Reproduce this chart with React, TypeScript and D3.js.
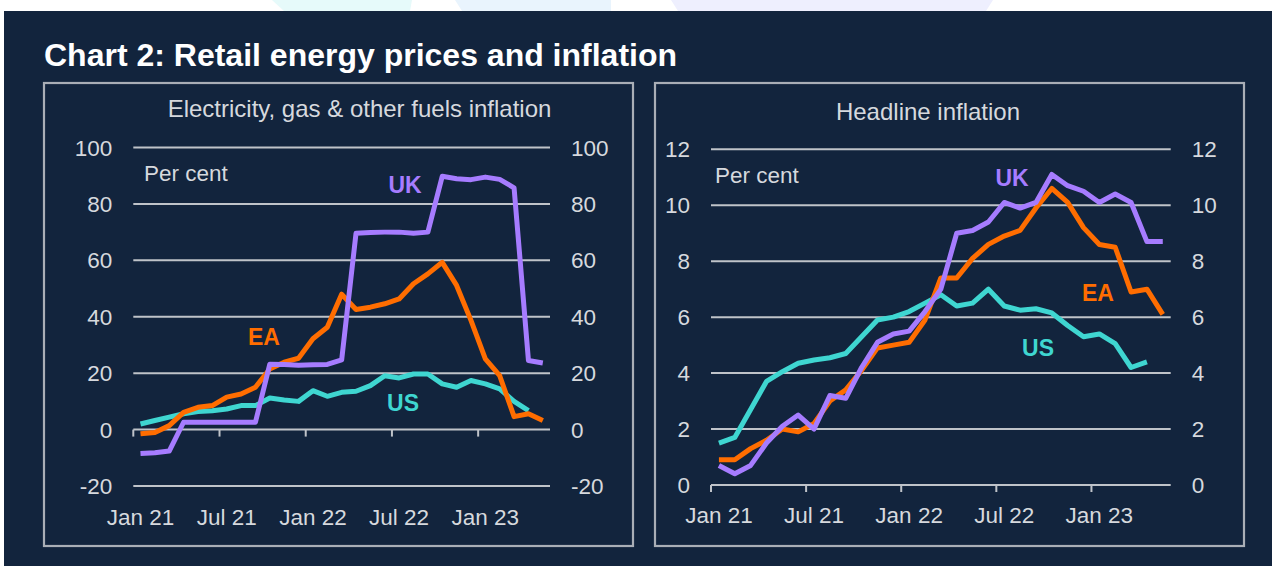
import React, { useEffect, useRef } from 'react';
import * as d3 from 'd3';

const MONTHS = [
  'Jan 21', 'Feb 21', 'Mar 21', 'Apr 21', 'May 21', 'Jun 21', 'Jul 21', 'Aug 21', 'Sep 21', 'Oct 21', 'Nov 21', 'Dec 21',
  'Jan 22', 'Feb 22', 'Mar 22', 'Apr 22', 'May 22', 'Jun 22', 'Jul 22', 'Aug 22', 'Sep 22', 'Oct 22', 'Nov 22', 'Dec 22',
  'Jan 23', 'Feb 23', 'Mar 23', 'Apr 23', 'May 23',
];
const X_TICK_LABELS = ['Jan 21', 'Jul 21', 'Jan 22', 'Jul 22', 'Jan 23'];

// Electricity, gas & other fuels inflation (per cent)
const ENERGY_UK = [-8.5, -8.2, -7.6, 2.6, 2.6, 2.6, 2.6, 2.6, 2.6, 23.2, 23.1, 22.8, 23.0, 23.1, 24.7, 69.6, 69.9, 70.0, 70.0, 69.6, 70.0, 89.8, 88.9, 88.6, 89.5, 88.7, 85.7, 24.5, 23.6];
const ENERGY_EA = [-1.5, -1.0, 1.4, 6.1, 7.9, 8.5, 11.5, 12.6, 15.0, 21.5, 23.9, 25.3, 32.2, 36.3, 48.0, 42.6, 43.4, 44.6, 46.3, 51.7, 55.2, 59.3, 51.1, 38.7, 25.1, 19.1, 4.6, 5.6, 3.2];
const ENERGY_US = [2.0, 3.2, 4.4, 5.6, 6.4, 6.7, 7.3, 8.5, 8.5, 11.2, 10.5, 10.0, 13.8, 11.8, 13.2, 13.6, 15.6, 19.1, 18.3, 19.7, 19.7, 16.2, 15.0, 17.4, 16.2, 14.4, 10.0, 6.7, null];
const ENERGY_TICKS = [-20, 0, 20, 40, 60, 80, 100];

// Headline inflation (per cent)
const HEADLINE_UK = [0.7, 0.4, 0.7, 1.5, 2.1, 2.5, 2.0, 3.2, 3.1, 4.2, 5.1, 5.4, 5.5, 6.2, 7.0, 9.0, 9.1, 9.4, 10.1, 9.9, 10.1, 11.1, 10.7, 10.5, 10.1, 10.4, 10.1, 8.7, 8.7];
const HEADLINE_EA = [0.9, 0.9, 1.3, 1.6, 2.0, 1.9, 2.2, 3.0, 3.4, 4.1, 4.9, 5.0, 5.1, 5.9, 7.4, 7.4, 8.1, 8.6, 8.9, 9.1, 9.9, 10.6, 10.1, 9.2, 8.6, 8.5, 6.9, 7.0, 6.1];
const HEADLINE_US = [1.5, 1.7, 2.7, 3.7, 4.05, 4.35, 4.47, 4.55, 4.7, 5.3, 5.9, 6.0, 6.2, 6.5, 6.8, 6.4, 6.5, 7.0, 6.4, 6.25, 6.3, 6.15, 5.7, 5.3, 5.4, 5.05, 4.2, 4.4, null];
const HEADLINE_TICKS = [0, 2, 4, 6, 8, 10, 12];

const COLORS: Record<string, string> = { UK: '#a67cff', EA: '#ff6d00', US: '#3fd6d1' };
const BG = '#12243d';
const GRID = '#bfc3c9';
const TEXT = '#d6d9de';
const FONT = '"Liberation Sans", Arial, sans-serif';

const panels = [
  {
    box: [44, 83, 589, 463],
    plot: { x0: 133.3, x1: 550, top: 147.5, bottom: 486 },
    domain: [-20, 100],
    ticks: ENERGY_TICKS,
    title: 'Electricity, gas & other fuels inflation',
    titlePos: [359.5, 117],
    perCentPos: [144, 181],
    labelY: 525,
    series: [
      { name: 'US', values: ENERGY_US, label: [403, 403] },
      { name: 'EA', values: ENERGY_EA, label: [264, 337] },
      { name: 'UK', values: ENERGY_UK, label: [405, 185] },
    ],
  },
  {
    box: [655, 83, 589, 463],
    plot: { x0: 711, x1: 1170.7, top: 149.3, bottom: 485 },
    domain: [0, 12],
    ticks: HEADLINE_TICKS,
    title: 'Headline inflation',
    titlePos: [928, 120],
    perCentPos: [715, 183],
    labelY: 523,
    series: [
      { name: 'US', values: HEADLINE_US, label: [1038, 348] },
      { name: 'EA', values: HEADLINE_EA, label: [1098, 293] },
      { name: 'UK', values: HEADLINE_UK, label: [1012, 178] },
    ],
  },
];

const App = () => {
  const svgRef = useRef<SVGSVGElement>(null);

  useEffect(() => {
    const svg = d3.select(svgRef.current);
    svg.selectAll('*').remove();

    // faint shapes in the white strip at the top
    const deco = [
      { pts: [[272, 0], [412, 0], [410, 11], [284, 11]], fill: '#e6fafa' },
      { pts: [[455, 0], [611, 0], [611, 11], [462, 11]], fill: '#e9f4fd' },
      { pts: [[671, 0], [993, 0], [986, 11], [678, 11]], fill: '#eeeffe' },
    ];
    deco.forEach(d => {
      svg.append('polygon').attr('points', d.pts.map(p => p.join(',')).join(' ')).attr('fill', d.fill);
    });

    svg.append('rect').attr('x', 4).attr('y', 11).attr('width', 1268).attr('height', 555).attr('fill', BG);

    svg.append('text')
      .attr('x', 44).attr('y', 66)
      .attr('fill', '#ffffff')
      .style('font-family', FONT).style('font-size', '32px').style('font-weight', 'bold')
      .text('Chart 2: Retail energy prices and inflation');

    panels.forEach(p => {
      const g = svg.append('g');
      const [bx, by, bw, bh] = p.box;
      g.append('rect')
        .attr('x', bx).attr('y', by).attr('width', bw).attr('height', bh)
        .attr('fill', 'none').attr('stroke', '#a9aeb6').attr('stroke-width', 2.2);

      const x = d3.scaleBand<string>().domain(MONTHS).range([p.plot.x0, p.plot.x1]).padding(0);
      const y = d3.scaleLinear().domain(p.domain).range([p.plot.bottom, p.plot.top]);
      const half = x.bandwidth() / 2;

      // gridlines
      g.selectAll(null).data(p.ticks).enter().append('line')
        .attr('x1', p.plot.x0).attr('x2', p.plot.x1)
        .attr('y1', d => y(d)).attr('y2', d => y(d))
        .attr('stroke', GRID).attr('stroke-width', 2);

      const tickText = (sel: any) => sel
        .attr('fill', TEXT).style('font-family', FONT).style('font-size', '22.5px');

      g.selectAll(null).data(p.ticks).enter().append('text')
        .attr('x', p.plot.x0 - 21).attr('y', d => y(d)).attr('dy', '0.36em')
        .attr('text-anchor', 'end').text(d => String(d)).call(tickText);
      g.selectAll(null).data(p.ticks).enter().append('text')
        .attr('x', p.plot.x1 + 21).attr('y', d => y(d)).attr('dy', '0.36em')
        .attr('text-anchor', 'start').text(d => String(d)).call(tickText);

      // x axis ticks sit on the zero line
      const y0 = y(0);
      g.selectAll(null).data(X_TICK_LABELS).enter().append('line')
        .attr('x1', d => x(d)!).attr('x2', d => x(d)!)
        .attr('y1', y0).attr('y2', y0 + 7)
        .attr('stroke', GRID).attr('stroke-width', 2);
      g.selectAll(null).data(X_TICK_LABELS).enter().append('text')
        .attr('x', d => x(d)! + half).attr('y', p.labelY)
        .attr('text-anchor', 'middle').text(d => d).call(tickText);

      g.append('text')
        .attr('x', p.titlePos[0]).attr('y', p.titlePos[1])
        .attr('text-anchor', 'middle').text(p.title)
        .attr('fill', TEXT).style('font-family', FONT).style('font-size', '24px');
      g.append('text')
        .attr('x', p.perCentPos[0]).attr('y', p.perCentPos[1])
        .text('Per cent').call(tickText);

      const line = d3.line<number | null>()
        .defined(v => v != null)
        .x((_, i) => x(MONTHS[i])! + half)
        .y(v => y(v as number));

      p.series.forEach(s => {
        g.append('path')
          .attr('d', line(s.values))
          .attr('fill', 'none')
          .attr('stroke', COLORS[s.name])
          .attr('stroke-width', 5)
          .attr('stroke-linejoin', 'round')
          .attr('stroke-linecap', 'butt');
      });

      p.series.forEach(s => {
        g.append('text')
          .attr('x', s.label[0]).attr('y', s.label[1]).attr('dy', '0.36em')
          .attr('text-anchor', 'middle')
          .attr('fill', COLORS[s.name])
          .style('font-family', FONT).style('font-size', '23px').style('font-weight', 'bold')
          .text(s.name);
      });
    });
  }, []);

  return (
    <svg ref={svgRef} width={1275} height={566}
      style={{ position: 'absolute', left: 0, top: 0, display: 'block', background: '#ffffff' }} />
  );
};

export default App;
